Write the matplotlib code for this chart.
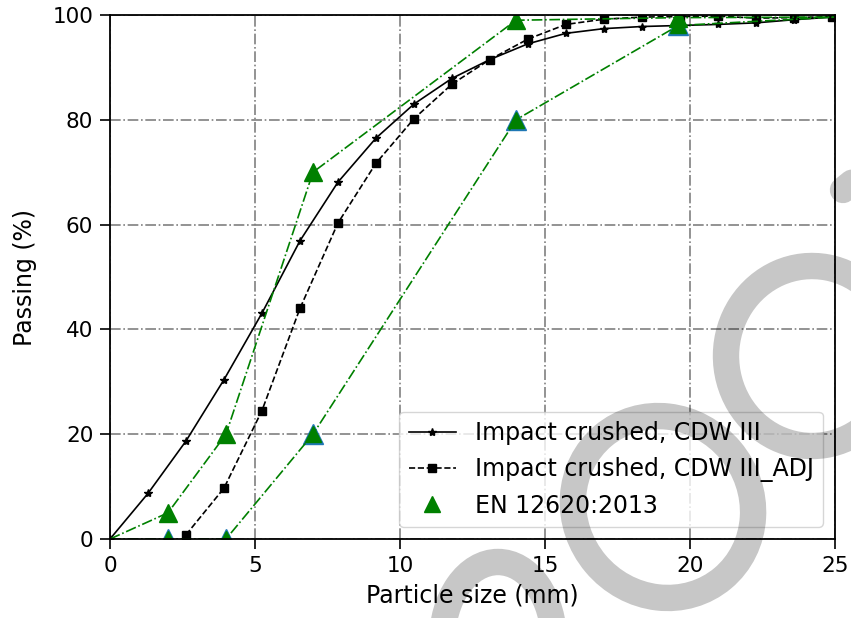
import matplotlib
matplotlib.use("Agg")
import matplotlib.pyplot as plt
from matplotlib.lines import Line2D
from matplotlib.patches import Arc, Ellipse
from matplotlib.transforms import Affine2D

FONTSIZE = 17
TICKSIZE = 15.5
W, H = 851, 618

# sieve sizes (mm) and passing (%)
size_cdw = [0, 1.31, 2.62, 3.93, 5.24, 6.55, 7.86, 9.17, 10.48, 11.79,
            13.1, 14.41, 15.72, 17.03, 18.34, 19.65, 20.96, 22.27, 23.58, 24.89]
pass_cdw = [0, 8.7, 18.7, 30.4, 43.1, 56.9, 68.1, 76.5, 83.0, 87.9,
            91.5, 94.5, 96.5, 97.4, 97.8, 98.0, 98.2, 98.5, 99.1, 99.6]

size_adj = [2.62, 3.93, 5.24, 6.55, 7.86, 9.17, 10.48, 11.79,
            13.1, 14.41, 15.72, 17.03, 18.34, 19.65, 20.96, 22.27, 23.58, 24.89]
pass_adj = [0.8, 9.7, 24.5, 44.0, 60.3, 71.7, 80.2, 86.8,
            91.5, 95.4, 98.2, 99.2, 99.6, 99.7, 99.8, 99.4, 99.5, 99.7]

size_en = [0, 2, 4, 7, 14, 19.6, 25]
en_upper = [0, 5, 20, 70, 99, 99.5, 99.6]
en_lower = [0, 0, 0, 20, 80, 98, 99.6]

fig = plt.figure(figsize=(W / 100, H / 100), dpi=100)
ax = fig.add_axes([110 / W, 1 - 539 / H, 725 / W, 524 / H])

ax.plot(size_cdw, pass_cdw, 'k-', marker='*', markersize=6, linewidth=1.2)
ax.plot(size_adj, pass_adj, 'k--', marker='s', markersize=5.5, linewidth=1.2)

# lower limit markers drawn twice (blue under green)
ax.plot(size_en[1:-1], en_lower[1:-1], '^', color='tab:blue', markersize=14, linestyle='none')
ax.plot(size_en, en_lower, '-.', color='green', linewidth=1.2)
ax.plot(size_en[1:-1], en_lower[1:-1], '^', color='green', markersize=12, linestyle='none')
ax.plot(size_en, en_upper, '-.', color='green', linewidth=1.2)
ax.plot(size_en[1:-1], en_upper[1:-1], '^', color='green', markersize=13, linestyle='none')

ax.set_xlim(0, 25)
ax.set_ylim(0, 100)
ax.set_xticks([0, 5, 10, 15, 20, 25])
ax.set_yticks([0, 20, 40, 60, 80, 100])
ax.grid(True, linestyle='-.', color='gray', linewidth=1.2)
ax.tick_params(axis='both', labelsize=TICKSIZE, length=7, width=1.2, pad=5)
for s in ax.spines.values():
    s.set_linewidth(1.3)
ax.set_xlabel('Particle size (mm)', fontsize=FONTSIZE, labelpad=6)
ax.set_ylabel('Passing (%)', fontsize=FONTSIZE, labelpad=11)

handles = [
    Line2D([], [], color='k', linestyle='-', marker='*', markersize=6, linewidth=1.2),
    Line2D([], [], color='k', linestyle='--', marker='s', markersize=6, linewidth=1.2),
    Line2D([], [], color='green', linestyle='none', marker='^', markersize=12),
]
labels = ['Impact crushed, CDW III', 'Impact crushed, CDW III_ADJ', 'EN 12620:2013']
ax.legend(handles, labels, loc='lower right', fontsize=FONTSIZE, borderaxespad=0.5)

# faint watermark strokes on top (image pixel coordinates)
px = Affine2D().scale(1 / W, -1 / H).translate(0, 1) + fig.transFigure
wm = dict(fill=False, edgecolor='black', alpha=0.22, linewidth=19, transform=px, zorder=10)
fig.add_artist(Arc((812, 356), 172, 180, theta1=50, theta2=312, **wm))
fig.add_artist(Ellipse((663, 507), 186, 176, angle=50, **wm))
fig.add_artist(Arc((498, 642), 112, 160, theta1=180, theta2=360, **wm))
fig.add_artist(Line2D([843, 880], [190, 160], color='black', alpha=0.22, linewidth=19,
                      solid_capstyle='round', transform=px, zorder=10))

fig.savefig('out.png', dpi=100)
